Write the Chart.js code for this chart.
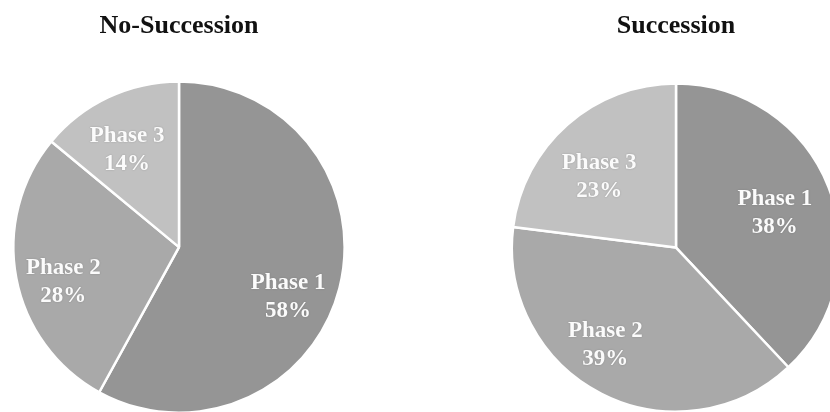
<!DOCTYPE html>
<html>
<head>
<meta charset="utf-8">
<script src="https://cdn.jsdelivr.net/npm/chart.js@4/dist/chart.umd.min.js"></script>
<style>
  html, body { margin: 0; padding: 0; background: #fff; }
  body { width: 830px; height: 412px; position: relative; overflow: hidden; }
  .pie { position: absolute; top: 0; width: 360px; height: 414px; }
  #noSucc { left: -1px; }
  #succ { left: 496px; }
</style>
</head>
<body>
<div class="pie" id="noSucc"><canvas id="c1"></canvas></div>
<div class="pie" id="succ"><canvas id="c2"></canvas></div>
<script>
const phases = ['Phase 1', 'Phase 2', 'Phase 3'];
const noSuccessionShare = [58, 28, 14];
const successionShare = [38, 39, 23];
const phaseColors = ['#959595', '#a9a9a9', '#c1c1c1'];

// writes "Phase N" and the percentage inside each slice,
// nudged a little from the slice centroid where it reads better
const sliceLabels = {
  id: 'sliceLabels',
  afterDatasetsDraw(chart, args, opts) {
    const ctx = chart.ctx;
    const meta = chart.getDatasetMeta(0);
    const values = chart.data.datasets[0].data;
    const nudge = opts.nudge || [];
    ctx.save();
    ctx.font = 'bold 23px "Liberation Serif", "Times New Roman", serif';
    ctx.fillStyle = '#fbfbfb';
    ctx.textAlign = 'center';
    ctx.textBaseline = 'middle';
    ctx.shadowColor = 'rgba(60,60,60,0.35)';
    ctx.shadowBlur = 1.5;
    meta.data.forEach((arc, i) => {
      const p = arc.getProps(['x', 'y', 'startAngle', 'endAngle', 'outerRadius'], true);
      const mid = (p.startAngle + p.endAngle) / 2;
      const r = p.outerRadius * 0.68;
      const [dx, dy] = nudge[i] || [0, 0];
      const x = p.x + Math.cos(mid) * r + dx;
      const y = p.y + Math.sin(mid) * r + dy;
      ctx.fillText(chart.data.labels[i], x, y - 14);
      ctx.fillText(values[i] + '%', x, y + 14);
    });
    ctx.restore();
  }
};

function makePie(id, title, values, titleBottom, padBottom, nudge) {
  new Chart(document.getElementById(id), {
    type: 'pie',
    data: {
      labels: phases,
      datasets: [{
        data: values,
        backgroundColor: phaseColors,
        borderColor: '#ffffff',
        borderWidth: 2.5,
      }],
    },
    options: {
      responsive: true,
      maintainAspectRatio: false,
      animation: false,
      layout: { padding: { bottom: padBottom } },
      plugins: {
        legend: { display: false },
        tooltip: { enabled: false },
        title: {
          display: true,
          text: title,
          color: '#111',
          font: { family: '"Liberation Serif", "Times New Roman", serif', size: 26, weight: 'bold' },
          padding: { top: 11, bottom: titleBottom },
        },
        sliceLabels: { nudge },
      },
    },
    plugins: [sliceLabels],
  });
}

makePie('c1', 'No-Succession', noSuccessionShare, 38, 0, [[0, 22], [-5, 14], [-4, 5]]);
makePie('c2', 'Succession', successionShare, 40, 1, [[-5, 7], [-20, -2], [-3, 13]]);
</script>
</body>
</html>
